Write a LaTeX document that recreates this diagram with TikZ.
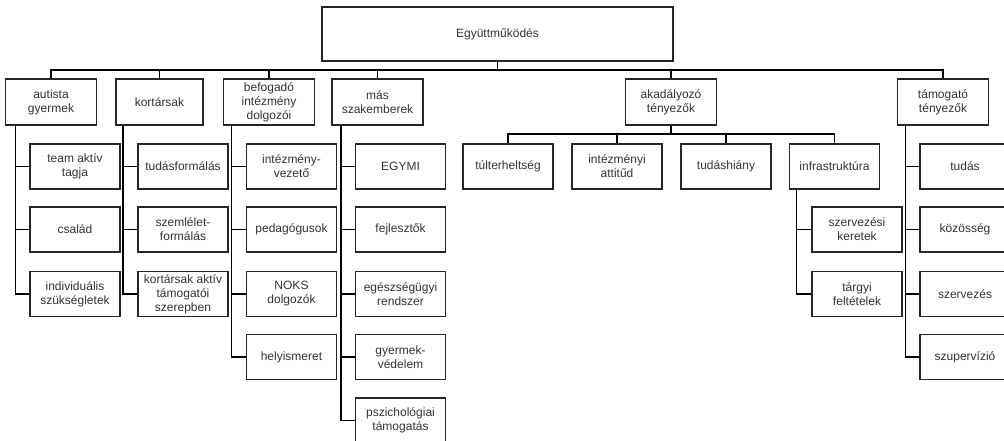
\documentclass[tikz,border=0pt]{standalone}
\usepackage{fontspec}
\setmainfont{Liberation Sans}
\usepackage{xcolor}

\begin{document}
\begin{tikzpicture}[
            x = 1pt, y = -1pt, % pixel grid, y going down
            line width = 1.5pt, % line style
            box/.style = {draw = black!85, line width = 1.7pt, fill = white,
                minimum width = 90pt, minimum height = 45pt,
                inner sep = 0pt, align = center, text = black!80,
                font = \fontsize{12}{14}\selectfont}
        ]
\useasboundingbox (0,0) rectangle (1004,441);

% top
\node[box, minimum width=351pt, minimum height=54pt] (root) at (497.5,34) {Együttműködés};

% first level
\node[box, minimum width=91pt, minimum height=46pt] (aut) at (51,102) {autista\\gyermek};
\node[box, minimum width=87pt, minimum height=46pt] (kort) at (159.5,102) {kortársak};
\node[box, minimum width=91pt, minimum height=46pt] (bef) at (269,102) {befogadó\\intézmény\\dolgozói};
\node[box, minimum width=91pt, minimum height=46pt] (mas) at (377.5,102) {más\\szakemberek};
\node[box, minimum width=91pt, minimum height=46pt] (akad) at (671,102) {akadályozó\\tényezők};
\node[box, minimum width=91pt, minimum height=46pt] (tam) at (943,102) {támogató\\tényezők};

% autista gyermek
\node[box] (team) at (75,166.5) {team aktív\\tagja};
\node[box] (csal) at (75,229.5) {család};
\node[box] (indiv) at (75,294) {individuális\\szükségletek};

% kortársak
\node[box] (tudf) at (183,166.5) {tudásformálás};
\node[box] (szem) at (183,229.5) {szemlélet-\\formálás};
\node[box] (ktam) at (183,294) {kortársak aktív\\támogatói\\szerepben};

% befogadó intézmény dolgozói
\node[box] (intv) at (291.5,166.5) {intézmény-\\vezető};
\node[box] (ped) at (291.5,229.5) {pedagógusok};
\node[box] (noks) at (291.5,294) {NOKS\\dolgozók};
\node[box] (hely) at (291.5,357) {helyismeret};

% más szakemberek
\node[box] (egymi) at (400.5,166.5) {EGYMI};
\node[box] (fejl) at (400.5,229.5) {fejlesztők};
\node[box] (eu) at (400.5,294) {egészségügyi\\rendszer};
\node[box] (gyv) at (400.5,357) {gyermek-\\védelem};
\node[box] (pszi) at (400.5,420.5) {pszichológiai\\támogatás};

% akadályozó tényezők
\node[box] (tul) at (508,166.5) {túlterheltség};
\node[box] (att) at (617,166.5) {intézményi\\attitűd};
\node[box] (tudh) at (726,166.5) {tudáshiány};
\node[box] (infra) at (834.5,166.5) {infrastruktúra};
\node[box] (szk) at (857,229.5) {szervezési\\keretek};
\node[box] (targy) at (857,294) {tárgyi\\feltételek};

% támogató tényezők
\node[box] (tud) at (965,166.5) {tudás};
\node[box] (koz) at (965,229.5) {közösség};
\node[box] (szerv) at (965,294) {szervezés};
\node[box] (szup) at (965,357) {szupervízió};

% bus from the top box
\foreach \n in {aut,kort,bef,mas,akad,tam}
  \draw (root.south) -- ++(0,8) -| (\n.north);

% bus under akadályozó tényezők
\foreach \n in {tul,att,tudh,infra}
  \draw (akad.south) -- ++(0,8) -| (\n.north);

% side lines to the children
\foreach \p/\c in {aut/team,aut/csal,aut/indiv}
  \draw ([xshift=11pt]\p.south west) |- (\c.west);
\foreach \p/\c in {kort/tudf,kort/szem,kort/ktam}
  \draw ([xshift=8pt]\p.south west) |- (\c.west);
\foreach \p/\c in {bef/intv,bef/ped,bef/noks,bef/hely}
  \draw ([xshift=9pt]\p.south west) |- (\c.west);
\foreach \p/\c in {mas/egymi,mas/fejl,mas/eu,mas/gyv,mas/pszi}
  \draw ([xshift=10pt]\p.south west) |- (\c.west);
\foreach \p/\c in {infra/szk,infra/targy}
  \draw ([xshift=8pt]\p.south west) |- (\c.west);
\foreach \p/\c in {tam/tud,tam/koz,tam/szerv,tam/szup}
  \draw ([xshift=9pt]\p.south west) |- (\c.west);
\end{tikzpicture}
\end{document}
